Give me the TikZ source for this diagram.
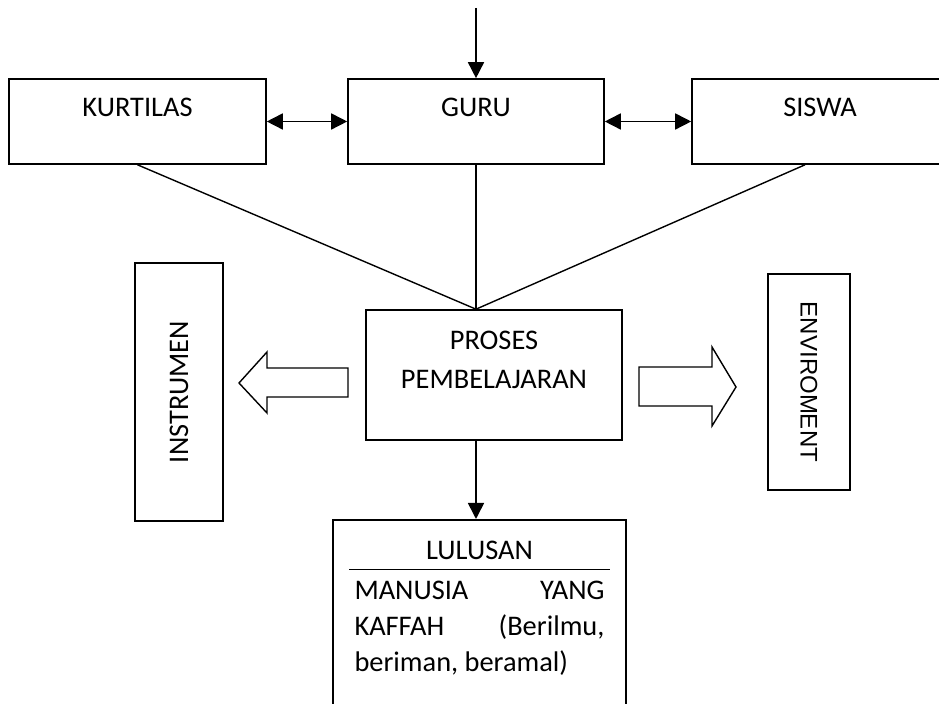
\documentclass[tikz,border=0pt]{standalone}
\usepackage{fontspec}
\setmainfont{Carlito}
\newfontfamily\arialfont{Liberation Sans}
\usetikzlibrary{arrows.meta}
\tikzset{
  box/.style={draw, line width=0.8pt, inner sep=0pt, font=\fontsize{14.2}{19.5}\selectfont},
  topbox/.style={box, minimum width=128pt, text height=19pt, text depth=23.5pt},
  link/.style={line width=0.7pt},
  tip/.style={line width=0.8pt, >={Triangle[length=8pt,width=8pt]}},
}
\begin{document}
\begin{tikzpicture}[x=0.5pt,y=-0.5pt]
  \useasboundingbox (0,0) rectangle (939,704);
  \clip (0,0) rectangle (939,704);
  \node[topbox, minimum width=128.5pt] (kurtilas) at (137.5,121.5) {KURTILAS};
  \node[topbox] (guru) at (476,121.5) {GURU};
  \node[topbox] (siswa) at (820,121.5) {SISWA};
  \node[box, minimum width=128pt, align=center, text height=39.5pt, text depth=25.5pt] (proses) at (494,375) {PROSES\\PEMBELAJARAN};
  \node[box, rotate=90, minimum width=129pt, minimum height=44pt] (instrumen) at (179,392) {INSTRUMEN};
  \node[box, rotate=-90, minimum width=108pt, minimum height=41pt, font=\arialfont\fontsize{12}{14}\selectfont] (enviro) at (809,382) {ENVIROMENT};
  \node[box, anchor=north, text width=125pt, inner xsep=10.75pt, inner ysep=10.5pt, text depth=110pt, align=justify, font=\fontsize{14.2}{18}\selectfont] (lulusan) at (479.5,519)
    {\parindent=0pt \hyphenpenalty=10000 \tolerance=10000
     \makebox[0pt][l]{\raisebox{-5.5pt}[0pt][0pt]{\makebox[\linewidth]{\rule{130.5pt}{0.5pt}}}}\makebox[\linewidth]{LULUSAN}\par
     \vspace{2pt}MANUSIA YANG KAFFAH (Berilmu, beriman, beramal)\par};
  \coordinate (entry) at (476,8);
  \coordinate (meet) at (proses.north -| guru.south);
  \draw[tip,->] (entry) -- (guru.north);
  \draw[tip,<->] (kurtilas.east) -- (guru.west);
  \draw[tip,<->] (guru.east) -- (siswa.west);
  \draw[link] (kurtilas.south) -- (meet);
  \draw[link] (guru.south) -- (meet);
  \draw[link] ([xshift=-7.5pt]siswa.south) -- (meet);
  \draw[tip,->] (proses.south -| guru.south) -- (lulusan.north -| guru.south);
  % hollow block arrows
  \draw[link] (348,368) -- (267,368) -- (267,352) -- (239,383) -- (267,413) -- (267,397) -- (348,397) -- cycle;
  \draw[link] (639,367) -- (712,367) -- (712,347) -- (736,387) -- (712,426) -- (712,406) -- (639,406) -- cycle;
\end{tikzpicture}
\end{document}
